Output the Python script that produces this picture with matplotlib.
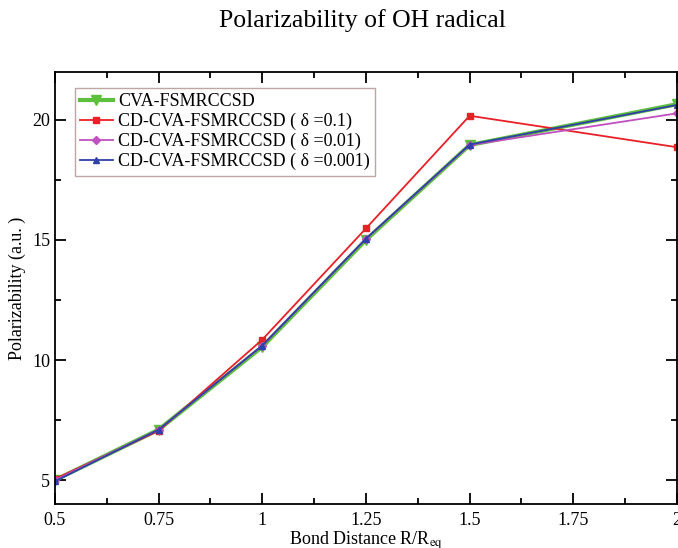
import matplotlib.pyplot as plt
from matplotlib.ticker import MultipleLocator, FormatStrFormatter

plt.rcParams['font.family'] = ['Liberation Serif', 'DejaVu Serif']
plt.rcParams['mathtext.fontset'] = 'stix'

# Bond distance R/Req
bond = [0.5, 0.75, 1.0, 1.25, 1.5, 2.0]

# Polarizability (a.u.)
cva = [5.0, 7.1, 10.55, 15.0, 18.95, 20.65]
cd_01 = [5.05, 7.05, 10.85, 15.48, 20.17, 18.86]
cd_001 = [5.0, 7.1, 10.6, 15.05, 18.95, 20.27]
cd_0001 = [4.95, 7.1, 10.6, 15.05, 18.97, 20.62]

fig = plt.figure(figsize=(6.78, 5.48), dpi=100)
ax = fig.add_axes([0.081, 0.080, 0.9175, 0.789])

ax.plot(bond, cva, color='#5cc03c', lw=3, marker='v', ms=7,
        label='CVA-FSMRCCSD')
ax.plot(bond, cd_01, color='#e82028', lw=1.3, marker='s', ms=5,
        label='CD-CVA-FSMRCCSD ( δ =0.1)')
ax.plot(bond, cd_001, color='#c050c0', lw=1.3, marker='D', ms=4,
        label='CD-CVA-FSMRCCSD ( δ =0.01)')
ax.plot(bond, cd_0001, color='#3040a8', lw=1.3, marker='^', ms=5,
        label='CD-CVA-FSMRCCSD ( δ =0.001)')

ax.set_xlim(0.5, 2.0)
ax.set_ylim(4, 22)
ax.xaxis.set_major_locator(MultipleLocator(0.25))
ax.xaxis.set_minor_locator(MultipleLocator(0.125))
ax.yaxis.set_major_locator(MultipleLocator(5))
ax.yaxis.set_minor_locator(MultipleLocator(2.5))
ax.xaxis.set_major_formatter(FormatStrFormatter('%g'))
ax.tick_params(which='both', direction='in', top=True, right=True,
               labelsize=13, width=1.3)
ax.tick_params(which='major', length=8)
ax.tick_params(which='minor', length=4)
ax.tick_params(axis='x', pad=6)
for s in ax.spines.values():
    s.set_linewidth(1.3)

ax.set_xlabel('Bond Distance R/R$_{\\mathrm{eq}}$', fontsize=13, labelpad=0)
ax.set_ylabel('Polarizability (a.u. )', fontsize=13)
fig.text(0.535, 1 - 21 / 548, 'Polarizability of OH radical', fontsize=18.5,
         ha='center', va='center')

leg = ax.legend(loc='upper left', bbox_to_anchor=(0.032, 0.963), fontsize=13,
                frameon=True, fancybox=False, handlelength=1.8,
                borderpad=0.3, labelspacing=0.15, handletextpad=0.3,
                borderaxespad=0)
leg.get_frame().set_edgecolor('#b09090')
leg.get_frame().set_linewidth(1.0)

fig.savefig('out.png', dpi=100)
